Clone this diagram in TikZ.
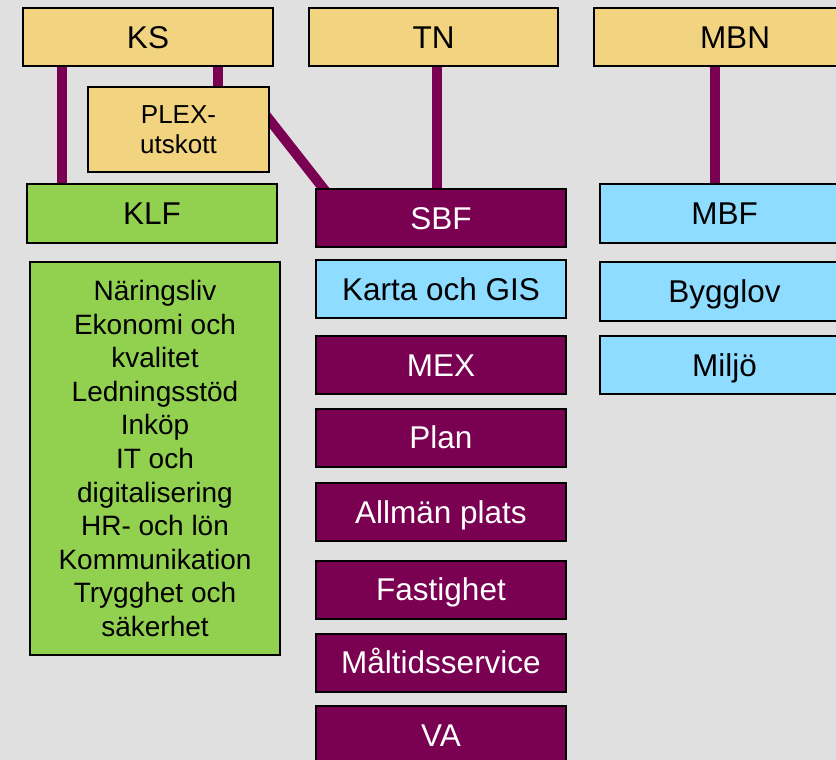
\documentclass[tikz,border=0pt]{standalone}
\usepackage{fontspec}
\setmainfont{Liberation Sans}
\usepackage{tikz}
\usetikzlibrary{backgrounds}
\usetikzlibrary{calc}
\definecolor{bggray}{HTML}{E0E0E0}
\definecolor{namndyellow}{HTML}{F2D380}
\definecolor{klfgreen}{HTML}{92D050}
\definecolor{sbfpurple}{HTML}{7A0052}
\definecolor{mbfblue}{HTML}{8EDCFF}
\newcommand{\boxw}{250}
\newcommand{\boxh}{58}
\newcommand{\sbfx}{441}
\newcommand{\mbfx}{724.5}
\tikzset{
  orgbox/.style={draw=black, line width=2pt, inner sep=0pt,
    minimum width=\boxw pt, minimum height=\boxh pt,
    text height=22.5pt, text depth=0pt,
    font=\fontsize{31.5}{37}\selectfont},
  namnd/.style={orgbox, fill=namndyellow},
  klfbox/.style={orgbox, fill=klfgreen},
  sbfbox/.style={orgbox, fill=sbfpurple, text=white},
  mbfbox/.style={orgbox, fill=mbfblue},
  link/.style={draw=sbfpurple, line width=10pt}
}

\begin{document}
\begin{tikzpicture}[x=1pt,y=-1pt]
    \useasboundingbox (0,0) rectangle (836,760);
    \clip (0,0) rectangle (836,760);
    % namnder
    \node[namnd] (ks) at (148,37) {KS};
    \node[namnd, minimum width=249pt] (tn) at (433.5,37) {TN};
    \node[namnd, minimum width=282pt] (mbn) at (735,37) {MBN};
    \node[namnd, minimum width=181pt, minimum height=85pt, align=center,
      text height={}, text depth={},
      font=\fontsize{26}{30}\selectfont] (plex) at (178.5,129.5) {PLEX-\\utskott};
    % forvaltningar
    \node[klfbox, minimum height=59pt] (klf) at (152,213.5) {KLF};
    \node[sbfbox] (sbf) at (\sbfx,218) {SBF};
    \node[mbfbox, minimum width=249pt, minimum height=59pt] (mbf) at (\mbfx,213.5) {MBF};
    % klf part
    \node[klfbox, minimum height=393pt, align=center,
      text height={}, text depth={},
      font=\fontsize{28}{33.6}\selectfont] (klflist) at (155,458.5)
      {N\"aringsliv\\Ekonomi och\\kvalitet\\Ledningsst\"od\\Ink\"op\\IT och\\
       digitalisering\\HR- och l\"on\\Kommunikation\\Trygghet och\\s\"akerhet};
    % sbf part
    \node[mbfbox] (karta) at (\sbfx,289) {Karta och GIS};
    \node[sbfbox] (mex) at (\sbfx,365) {MEX};
    \node[sbfbox] (plan) at (\sbfx,437.5) {Plan};
    \node[sbfbox] (allman) at (\sbfx,512) {Allm\"an plats};
    \node[sbfbox] (fastighet) at (\sbfx,589.5) {Fastighet};
    \node[sbfbox] (maltid) at (\sbfx,662.5) {M\aa ltidsservice};
    \node[sbfbox] (va) at (\sbfx,735) {VA};
    % mbf part
    \node[mbfbox, minimum width=249pt, minimum height=59pt] (bygglov) at (\mbfx,291.5) {Bygglov};
    \node[mbfbox, minimum width=249pt, minimum height=58pt] (miljo) at (\mbfx,365) {Milj\"o};
    % links
    \coordinate (klfx) at (62,0);
    \coordinate (plexx) at (218,0);
    \coordinate (tnx) at (437,0);
    \coordinate (mbnx) at (715,0);
    \begin{scope}[on background layer]
      \fill[bggray] (0,0) rectangle (836,760);
      \draw[link] (ks.south -| klfx) -- (klf.north -| klfx);
      \draw[link] (ks.south -| plexx) -- (plex.north -| plexx);
      \draw[link, shorten <=-8pt, shorten >=-8pt]
        ([yshift=9pt]plex.east) -- ([xshift=8pt]sbf.north west);
      \draw[link] (tn.south -| tnx) -- (sbf.north -| tnx);
      \draw[link] (mbn.south -| mbnx) -- (mbf.north -| mbnx);
    \end{scope}
\end{tikzpicture}
\end{document}
